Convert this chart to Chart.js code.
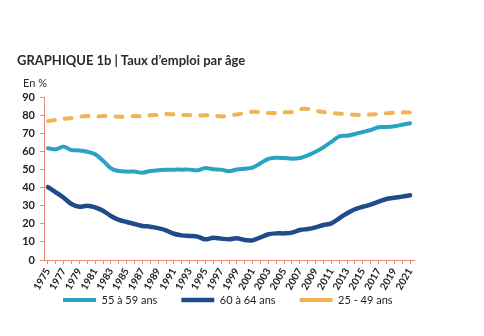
<!DOCTYPE html>
<html>
<head>
<meta charset="utf-8">
<script src="https://cdn.jsdelivr.net/npm/chart.js@4"></script>
<style>
  html, body { margin: 0; padding: 0; background: #fff; }
  #wrap { position: relative; width: 484px; height: 336px; }
  #title { position: absolute; left: 17px; top: 52px; font: bold 13px Lato, sans-serif; color: #2a2a2a; white-space: nowrap; }
  #unit { position: absolute; left: 23px; top: 76px; font: 11px Lato, sans-serif; color: #2a2a2a; white-space: nowrap; }
  canvas { position: absolute; left: 0; top: 0; }
</style>
</head>
<body>
<div id="wrap">
  <canvas id="c" width="484" height="336"></canvas>
  <div id="title">GRAPHIQUE 1b | Taux d’emploi par âge</div>
  <div id="unit">En %</div>
</div>
<script>
const years = [1975,1976,1977,1978,1979,1980,1981,1982,1983,1984,1985,1986,1987,1988,1989,1990,1991,1992,1993,1994,1995,1996,1997,1998,1999,2000,2001,2002,2003,2004,2005,2006,2007,2008,2009,2010,2011,2012,2013,2014,2015,2016,2017,2018,2019,2020,2021];
const age55to59 = [61.7,61.1,62.6,60.7,60.5,59.8,58.4,54.8,50.6,49.1,48.8,48.8,48.2,49.1,49.6,49.8,49.9,49.9,49.9,49.5,50.8,50.1,49.9,49.0,50.0,50.4,51.0,53.4,55.9,56.5,56.3,55.9,56.3,57.8,59.8,62.2,65.2,68.3,68.6,69.6,70.7,71.8,73.3,73.4,73.8,74.7,75.5];
const age60to64 = [40.3,37.4,34.4,30.9,29.4,30.0,29.1,27.2,24.3,22.1,21.0,19.9,18.8,18.4,17.6,16.4,14.5,13.6,13.3,12.9,11.4,12.3,11.8,11.4,12.0,11.0,10.9,12.5,14.2,14.7,14.7,15.1,16.6,17.1,18.0,19.3,20.2,23.0,25.8,28.0,29.4,30.6,32.2,33.7,34.4,35.0,35.7];
const age25to49 = [76.8,77.3,77.9,78.4,79.1,79.5,79.1,79.5,79.5,79.1,79.1,79.5,79.3,79.9,80.1,80.6,80.4,80.1,79.9,79.7,79.9,79.7,79.3,79.7,80.4,81.0,81.9,81.5,81.2,81.2,81.5,81.7,83.2,83.4,82.3,81.7,81.2,80.8,80.6,80.2,80.1,80.4,80.6,81.0,81.3,81.5,81.5];
const seriesNames = ['55 à 59 ans', '60 à 64 ans', '25 - 49 ans'];
const yTicks = [0,10,20,30,40,50,60,70,80,90];

const axisColor = '#e8897e';
const textColor = '#222222';
const LEGEND_PAD = 24;

// place the legend row like the reference (items start at x=63, centred on y=300)
const legendPlacer = {
  id: 'legendPlacer',
  afterLayout(chart) {
    const lg = chart.legend;
    if (!lg) return;
    const h = lg.bottom - lg.top;
    const w = lg.right - lg.left;
    lg.left = 63 - LEGEND_PAD;
    lg.right = lg.left + w;
    lg.top = 300 - 5.5 - LEGEND_PAD;
    lg.bottom = lg.top + h;
  }
};

new Chart(document.getElementById('c'), {
  type: 'line',
  data: {
    labels: years,
    datasets: [
      { label: seriesNames[0], data: age55to59, borderColor: '#2aa3c3', backgroundColor: '#2aa3c3', borderWidth: 4, pointRadius: 0, tension: 0.3, borderCapStyle: 'round', borderJoinStyle: 'round' },
      { label: seriesNames[1], data: age60to64, borderColor: '#1f4b8b', backgroundColor: '#1f4b8b', borderWidth: 4.5, pointRadius: 0, tension: 0.3, borderCapStyle: 'round', borderJoinStyle: 'round' },
      { label: seriesNames[2], data: age25to49, borderColor: '#f2b452', backgroundColor: '#f2b452', borderWidth: 4, borderDash: [7, 10], pointRadius: 0, tension: 0.3, borderCapStyle: 'round', borderJoinStyle: 'round' }
    ]
  },
  plugins: [legendPlacer],
  options: {
    responsive: false,
    animation: false,
    layout: { padding: { top: 97, left: 15, right: 70, bottom: 0 } },
    plugins: {
      title: { display: false },
      tooltip: { enabled: false },
      legend: {
        position: 'bottom',
        align: 'start',
        labels: {
          usePointStyle: true,
          pointStyle: 'line',
          pointStyleWidth: 33,
          boxHeight: 11,
          padding: LEGEND_PAD,
          color: textColor,
          font: { family: 'Lato', size: 11 }
        }
      }
    },
    scales: {
      x: {
        type: 'category',
        offset: true,
        afterFit: (s) => { s.height = 31; },
        border: { color: axisColor, width: 1 },
        grid: { drawOnChartArea: false, drawTicks: true, tickLength: 4, color: axisColor, offset: false },
        ticks: {
          autoSkip: false,
          minRotation: 60,
          maxRotation: 60,
          padding: 2,
          color: textColor,
          font: { family: 'Lato', size: 10, weight: 'bold' },
          callback: function(v, i) { return i % 2 === 0 ? String(years[i]) : ''; }
        }
      },
      y: {
        min: 0,
        max: 90,
        afterFit: (s) => { s.width = 29; },
        afterBuildTicks: (s) => { s.ticks = yTicks.map(v => ({ value: v })); },
        border: { color: axisColor, width: 1 },
        grid: { drawOnChartArea: false, drawTicks: true, tickLength: 4, color: axisColor },
        ticks: {
          padding: 5,
          color: textColor,
          font: { family: 'Lato', size: 11, weight: 'bold' }
        }
      }
    }
  }
});
</script>
</body>
</html>
